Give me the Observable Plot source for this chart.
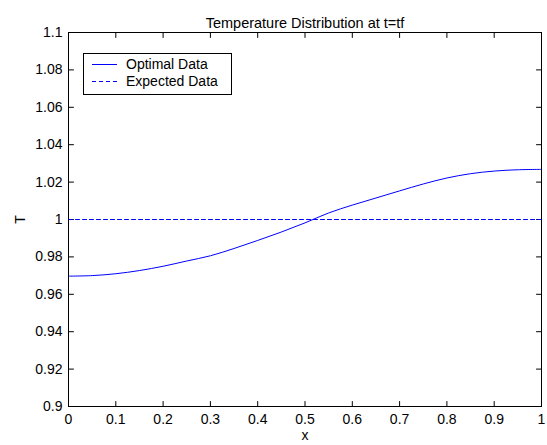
<!DOCTYPE html>
<html>
<head>
<meta charset="utf-8">
<script src="https://cdn.jsdelivr.net/npm/d3@7"></script>
<script src="https://cdn.jsdelivr.net/npm/@observablehq/plot@0.6"></script>
<style>
  html, body { margin: 0; padding: 0; background: #fff; }
  #chart svg { display: block; }
</style>
</head>
<body>
<div id="chart"></div>
<script>
// Data
const xs = [0, 0.05, 0.1, 0.15, 0.2, 0.25, 0.3, 0.35, 0.4, 0.45, 0.5, 0.55, 0.6, 0.65, 0.7, 0.75, 0.8, 0.85, 0.9, 0.95, 1.0];
const optimalT = [0.9697, 0.9700, 0.9710, 0.9727, 0.9750, 0.9778, 0.9806, 0.9845, 0.9888, 0.9933, 0.9982, 1.0035, 1.0077, 1.0115, 1.0153, 1.0190, 1.0222, 1.0245, 1.0259, 1.0266, 1.0268];
const expectedT = [1, 1];
const expectedX = [0, 1];
const xTicks = [0, 0.1, 0.2, 0.3, 0.4, 0.5, 0.6, 0.7, 0.8, 0.9, 1];
const yTicks = [0.9, 0.92, 0.94, 0.96, 0.98, 1, 1.02, 1.04, 1.06, 1.08, 1.1];
const seriesNames = ["Optimal Data", "Expected Data"];
const titleText = "Temperature Distribution at t=tf";

const optimal = xs.map((x, i) => ({x, T: optimalT[i]}));
const expected = expectedX.map((x, i) => ({x, T: expectedT[i]}));

const fmt = d => String(+d.toFixed(2));
const FONT = "'Liberation Sans', Arial, sans-serif";
const TICK = 5;
// straight tick shape for vector marks
const tickShape = { draw(context, l) { context.moveTo(0, 0); context.lineTo(0, -l); } };
const tickOpts = { length: TICK, anchor: "start", shape: tickShape, stroke: "#000", strokeWidth: 1 };

const plot = Plot.plot({
  width: 547,
  height: 445,
  marginLeft: 68,
  marginRight: 6,
  marginTop: 32,
  marginBottom: 39,
  style: { fontFamily: FONT, fontSize: "14px", color: "#000", background: "#fff" },
  x: { domain: [0, 1] },
  y: { domain: [0.9, 1.1] },
  marks: [
    // tick labels + axis titles
    Plot.axisX(xTicks, { anchor: "bottom", tickSize: 0, tickPadding: 8, tickFormat: fmt, fill: "#000", label: "x", labelAnchor: "center", labelArrow: "none", labelOffset: 33 }),
    Plot.axisY(yTicks, { anchor: "left", tickSize: 0, tickPadding: 6, tickFormat: fmt, fill: "#000", label: "T", labelAnchor: "center", labelArrow: "none", labelOffset: 53 }),
    // inward tick marks on all four sides
    Plot.vector(xTicks, { x: d => d, frameAnchor: "bottom", rotate: 0, ...tickOpts }),
    Plot.vector(xTicks, { x: d => d, frameAnchor: "top", rotate: 180, ...tickOpts }),
    Plot.vector(yTicks, { y: d => d, frameAnchor: "left", rotate: 90, ...tickOpts }),
    Plot.vector(yTicks, { y: d => d, frameAnchor: "right", rotate: -90, ...tickOpts }),
    Plot.line(expected, { x: "x", y: "T", stroke: "#0000ff", strokeWidth: 1, strokeDasharray: "4,3" }),
    Plot.line(optimal, { x: "x", y: "T", stroke: "#0000ff", strokeWidth: 1, curve: "catmull-rom" }),
    Plot.frame({ stroke: "#000", strokeWidth: 1 }),
    Plot.text([titleText], { frameAnchor: "top", dy: -15, text: d => d, fill: "#000", fontSize: 14.5 })
  ]
});

document.getElementById("chart").appendChild(plot);

// Legend box (MATLAB style) overlaid in the upper-left corner of the plot area
const svg = d3.select(plot);
const lg = svg.append("g").attr("font-family", FONT).attr("font-size", "14px").attr("text-anchor", "start");
lg.append("rect").attr("x", 83.5).attr("y", 53.5).attr("width", 148).attr("height", 41)
  .attr("fill", "#fff").attr("stroke", "#000").attr("stroke-width", 1);
const styles = [null, "4,3"];
seriesNames.forEach((name, i) => {
  const yy = 64.5 + i * 17;
  lg.append("line").attr("x1", 92).attr("x2", 117).attr("y1", yy).attr("y2", yy)
    .attr("stroke", "#0000ff").attr("stroke-width", 1).attr("stroke-dasharray", styles[i]);
  lg.append("text").attr("x", 126).attr("y", yy).attr("dy", "0.35em").attr("fill", "#000")
    .attr("text-anchor", "start").text(name);
});
</script>
</body>
</html>
